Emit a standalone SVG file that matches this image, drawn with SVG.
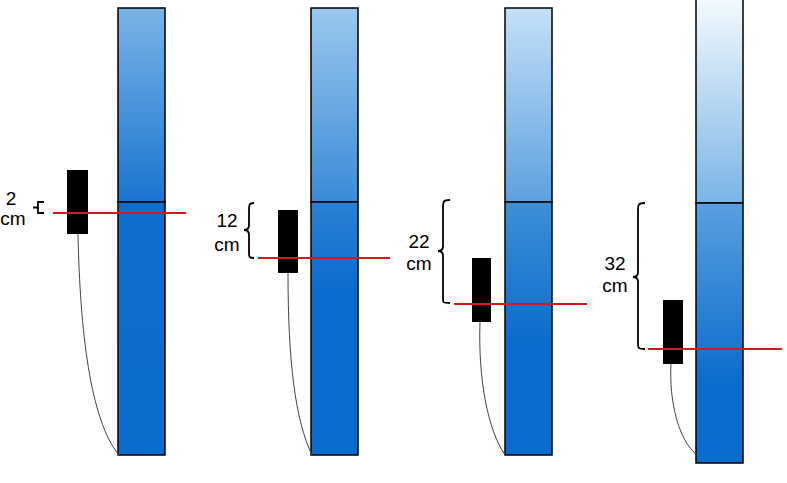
<svg xmlns="http://www.w3.org/2000/svg" width="787" height="483" viewBox="0 0 787 483">
<style>
.col{stroke:#000;stroke-width:1.5}
.box{fill:#000}
.red{stroke:#d81818;stroke-width:2}
.br{fill:none;stroke:#000;stroke-width:1.8}
.wire{fill:none;stroke:#444;stroke-width:1}
text{font-family:"Liberation Sans",Arial,sans-serif;font-size:19px;fill:#000;text-anchor:middle}
</style>
<defs>
<linearGradient id="t1" x1="0" y1="0" x2="0" y2="1"><stop offset="0" stop-color="#7ab4e6"/><stop offset="1" stop-color="#1a74d0"/></linearGradient>
<linearGradient id="t2" x1="0" y1="0" x2="0" y2="1"><stop offset="0" stop-color="#9bc8ee"/><stop offset="1" stop-color="#3a8ad8"/></linearGradient>
<linearGradient id="t3" x1="0" y1="0" x2="0" y2="1"><stop offset="0" stop-color="#c4e0f8"/><stop offset="1" stop-color="#5da0e0"/></linearGradient>
<linearGradient id="t4" x1="0" y1="0" x2="0" y2="1"><stop offset="0" stop-color="#f4fafe"/><stop offset="1" stop-color="#7ab4e6"/></linearGradient>
<linearGradient id="b1" x1="0" y1="0" x2="0" y2="1"><stop offset="0" stop-color="#0e6ecc"/><stop offset="1" stop-color="#0a6ccc"/></linearGradient>
<linearGradient id="b2" x1="0" y1="0" x2="0" y2="1"><stop offset="0" stop-color="#2a80d4"/><stop offset="0.35" stop-color="#0a6ccc"/><stop offset="1" stop-color="#0a6ccc"/></linearGradient>
<linearGradient id="b3" x1="0" y1="0" x2="0" y2="1"><stop offset="0" stop-color="#3e8fd8"/><stop offset="0.55" stop-color="#0a6ccc"/><stop offset="1" stop-color="#0a6ccc"/></linearGradient>
<linearGradient id="b4" x1="0" y1="0" x2="0" y2="1"><stop offset="0" stop-color="#5a9fe0"/><stop offset="0.7" stop-color="#0a6ccc"/><stop offset="1" stop-color="#0a6ccc"/></linearGradient>
</defs>
<g id="column1">
<rect x="118" y="8" width="47" height="194" fill="url(#t1)" class="col"/>
<rect x="118" y="202" width="47" height="253" fill="url(#b1)" class="col"/>
</g>
<g id="column2">
<rect x="311" y="8" width="47" height="194" fill="url(#t2)" class="col"/>
<rect x="311" y="202" width="47" height="253" fill="url(#b2)" class="col"/>
</g>
<g id="column3">
<rect x="505" y="8" width="47" height="194" fill="url(#t3)" class="col"/>
<rect x="505" y="202" width="47" height="253" fill="url(#b3)" class="col"/>
</g>
<g id="column4">
<rect x="696" y="-2" width="47" height="205" fill="url(#t4)" class="col"/>
<rect x="696" y="203" width="47" height="260" fill="url(#b4)" class="col"/>
</g>
<g id="connectors">
<path class="wire" d="M78,234 C80,330 90,420 119,455"/>
<path class="wire" d="M288,273 C288,360 295,420 312,455"/>
<path class="wire" d="M480,322 C478,380 488,430 505,455"/>
<path class="wire" d="M671,364 C669,400 678,440 697,455"/>
</g>
<g id="sensor1"><rect class="box" x="67" y="170" width="21" height="64"/><line class="red" x1="53" y1="213" x2="186" y2="213"/>
<path class="br" d="M44,202 H38 V213 H44 M38,207.5 H33"/><text x="11" y="205">2</text><text x="13" y="225">cm</text></g>
<g id="sensor2"><rect class="box" x="278" y="210" width="20" height="63"/><line class="red" x1="258" y1="258" x2="390" y2="258"/>
<path class="br" d="M254,203 C249,203 249,205 249,210 V225 Q249,230 244,230 Q249,230 249,235 V252 C249,257 249,258 254,258"/><text x="227" y="227">12</text><text x="227" y="251">cm</text></g>
<g id="sensor3"><rect class="box" x="472" y="258" width="19" height="64"/><line class="red" x1="454" y1="304" x2="587" y2="304"/>
<path class="br" d="M450,200 C443,200 443,202 443,207 V246 Q443,251 438,251 Q443,251 443,256 V298 C443,303 443,303 450,303"/><text x="419" y="248">22</text><text x="419" y="270">cm</text></g>
<g id="sensor4"><rect class="box" x="663" y="300" width="20" height="64"/><line class="red" x1="648" y1="349" x2="782" y2="349"/>
<path class="br" d="M645,203 C638,203 638,205 638,210 V272 Q638,277 633,277 Q638,277 638,282 V343 C638,348 638,349 645,349"/><text x="615" y="270">32</text><text x="615" y="292">cm</text></g>
</svg>
